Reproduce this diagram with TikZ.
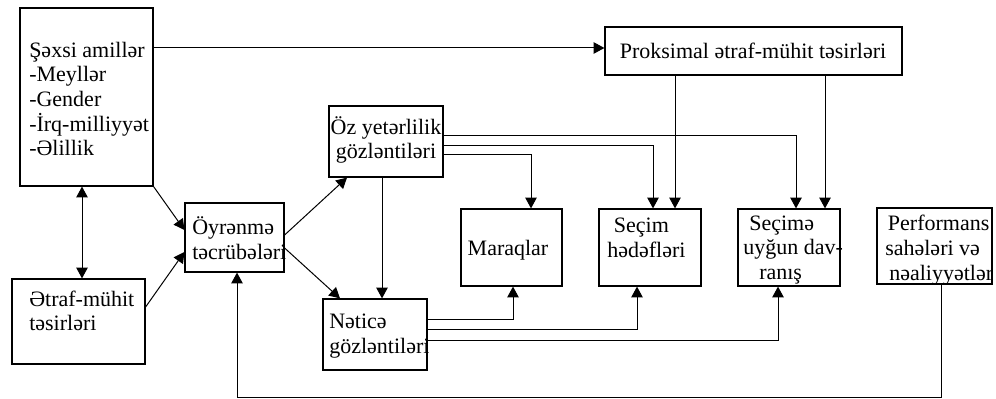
\documentclass[tikz,border=0pt]{standalone}
\usepackage{fontspec}
\setmainfont{Liberation Serif}
\usetikzlibrary{arrows.meta,fit}
\tikzset{
    >={Triangle[length=8pt,width=8.5pt]},
    box/.style={draw,line width=0.9pt,inner sep=0pt},
    txt/.style={inner sep=0pt,font=\fontsize{16.5}{18.5}\selectfont},
    link/.style={line width=0.75pt,->}
}

\begin{document}
\begin{tikzpicture}[x=0.75pt,y=-0.75pt]
    \useasboundingbox (0,0) rectangle (996,399);

    % boxes
    \node[box,fit={(20,8) (153,186)}] (sexsi) {};
    \node[box,fit={(605,27) (902,75)}] (prok) {};
    \node[box,fit={(329,106) (443,177)}] (oz) {};
    \node[box,fit={(185,203) (284,272)}] (oyr) {};
    \node[box,fit={(12,279) (145,364)}] (etraf) {};
    \node[box,fit={(323,299) (427,370)}] (net) {};
    \node[box,fit={(461,209) (562,286)}] (mar) {};
    \node[box,fit={(599,209) (701,286)}] (sec) {};
    \node[box,fit={(738,209) (840,286)}] (uyg) {};
    \node[box,fit={(877,208) (992,284)}] (perf) {};

    % texts
    \node[txt,anchor=west,align=left] (sexsitxt) at (29,99) {Şəxsi amillər\\-Meyllər\\-Gender\\-İrq-milliyyət\\-Əlillik};
    \node[txt] (proktxt) at (753,51) {Proksimal ətraf-mühit təsirləri};
    \node[txt,align=center] (oztxt) at (386,140) {Öz yetərlilik\\gözləntiləri};
    \node[txt,anchor=west,align=left] (oyrtxt) at (192,238) {Öyrənmə\\təcrübələri};
    \node[txt,anchor=west,align=left] (etraftxt) at (29,311) {Ətraf-mühit\\təsirləri};
    \node[txt,anchor=west,align=left] (nettxt) at (329,336) {Nəticə\\gözləntiləri};
    \node[txt] (martxt) at (508,250) {Maraqlar};
    \node[txt,anchor=west,align=left] (sectxt) at (607,238) {\hspace{5pt}Seçim\\hədəfləri};
    \node[txt,anchor=west,align=left] (uygtxt) at (743,250) {\hspace{4.5pt}Seçimə\\uyğun dav-\\\hspace{12pt}ranış};
    \node[txt,anchor=west,align=left] (perftxt) at (885,250) {\hspace{2pt}Performans\\sahələri və\\\hspace{3pt}nəaliyyətlər};

    % connectors
    \draw[link] (sexsi.east |- 0,48) -- (prok.west |- 0,48);
    \draw[link,<->] (82,0 |- sexsi.south) -- (82,0 |- etraf.north);
    \draw[link] (sexsi.south east) -- (oyr.west |- 0,230);
    \draw[link] (etraf.east |- 0,307) -- (oyr.west |- 0,252);
    \draw[link] (oyr.east |- 0,235) -- (347,0 |- oz.south);
    \draw[link] (oyr.east |- 0,248) -- (340,0 |- net.north);
    \draw[link] (382,0 |- oz.south) -- (382,0 |- net.north);

    \draw[link] (oz.east |- 0,155) -| (531,0 |- mar.north);
    \draw[link] (oz.east |- 0,146) -| (653,0 |- sec.north);
    \draw[link] (oz.east |- 0,136) -| (796,0 |- uyg.north);
    \draw[link] (675,0 |- prok.south) -- (675,0 |- sec.north);
    \draw[link] (825,0 |- prok.south) -- (825,0 |- uyg.north);

    \draw[link] (net.east |- 0,319) -| (513,0 |- mar.south);
    \draw[link] (net.east |- 0,329) -| (637,0 |- sec.south);
    \draw[link] (net.east |- 0,340) -| (778,0 |- uyg.south);

    % feedback
    \coordinate (back) at (941,397);
    \draw[link] (941,0 |- perf.south) -- (back) -| (237,0 |- oyr.south);
\end{tikzpicture}
\end{document}
